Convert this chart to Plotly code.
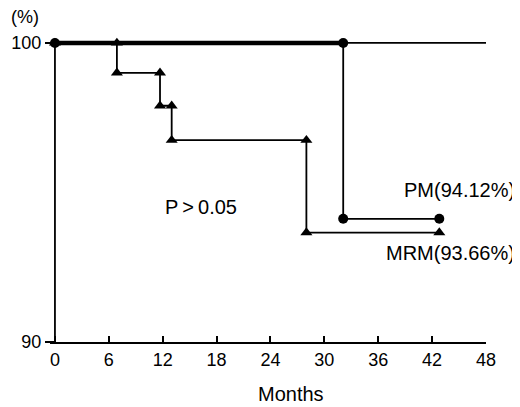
import plotly.graph_objects as go

# Data
pm_times = [0, 32.1, 42.8]
pm_surv = [100, 94.12, 94.12]

mrm_times = [0, 6.9, 11.7, 13.0, 28.0, 42.8]
mrm_surv = [100, 99.0, 97.9, 96.75, 93.66, 93.66]

x_ticks = [0, 6, 12, 18, 24, 30, 36, 42, 48]
y_ticks = [90, 100]

FONT = "Liberation Sans, Arial, sans-serif"

# The page body has an 8px margin, so the figure is offset by 8px.
# Plot area (page px): x 50..486, y 28..342
PL, PR, PT, PB = 50, 486, 28, 342
PW, PH = PR - PL, PB - PT


def px_x(p):
    return (p - PL) / PW


def px_y(p):
    return (PB - p) / PH


def step_points(times, surv):
    xs, ys = [times[0]], [surv[0]]
    for i in range(1, len(times)):
        xs.append(times[i]); ys.append(surv[i - 1])
        if surv[i] != surv[i - 1]:
            xs.append(times[i]); ys.append(surv[i])
    return xs, ys


fig = go.Figure()

# reference line at 100 %
fig.add_trace(go.Scatter(x=[x_ticks[0], x_ticks[-1]], y=[y_ticks[-1], y_ticks[-1]],
                         mode="lines", line=dict(color="black", width=1.8),
                         hoverinfo="skip", showlegend=False))

mx, my = step_points(mrm_times, mrm_surv)
fig.add_trace(go.Scatter(x=mx, y=my, mode="lines+markers",
                         line=dict(color="black", width=1.8),
                         marker=dict(symbol="triangle-up", size=10.5, color="black"),
                         cliponaxis=False, showlegend=False, name="MRM"))

px_, py_ = step_points(pm_times, pm_surv)
fig.add_trace(go.Scatter(x=px_, y=py_, mode="lines",
                         line=dict(color="black", width=1.8),
                         cliponaxis=False, showlegend=False, name="PM"))
# thick first segment of PM
fig.add_trace(go.Scatter(x=pm_times[:2], y=[pm_surv[0], pm_surv[0]], mode="lines",
                         line=dict(color="black", width=4.5),
                         cliponaxis=False, showlegend=False, hoverinfo="skip"))
fig.add_trace(go.Scatter(x=px_, y=py_, mode="markers",
                         marker=dict(symbol="circle", size=10, color="black"),
                         cliponaxis=False, showlegend=False, hoverinfo="skip"))

# y axis line at x = 0
fig.add_shape(type="line", x0=0, x1=0, y0=y_ticks[0], y1=y_ticks[-1],
              xref="x", yref="y", line=dict(color="black", width=1.8))

tf = dict(size=20, family=FONT, color="black")
fig.add_annotation(x=px_x(201), y=px_y(207), xref="paper", yref="paper",
                   text="P\u2009&gt;\u20090.05", showarrow=False,
                   xanchor="center", yanchor="middle", font=tf)
fig.add_annotation(x=px_x(517), y=px_y(190), xref="paper", yref="paper",
                   text="PM(94.12%)", showarrow=False, xanchor="right", yanchor="middle",
                   font=tf)
fig.add_annotation(x=px_x(517), y=px_y(253), xref="paper", yref="paper",
                   text="MRM(93.66%)", showarrow=False, xanchor="right", yanchor="middle",
                   font=tf)
fig.add_annotation(x=px_x(25), y=px_y(17.5), xref="paper", yref="paper",
                   text="(%)", showarrow=False, xanchor="center", yanchor="middle",
                   font=dict(size=18, family=FONT, color="black"))
fig.add_annotation(x=px_x(291), y=px_y(394), xref="paper", yref="paper",
                   text="Months", showarrow=False, xanchor="center", yanchor="middle",
                   font=tf)

W, H = 512, 399
fig.update_layout(
    width=W, height=H,
    margin=dict(l=PL - 8, r=W - (PR - 8), t=PT - 8, b=H - (PB - 8), autoexpand=False),
    paper_bgcolor="white", plot_bgcolor="white",
    xaxis=dict(range=[-0.55, 48], tickvals=x_ticks, ticktext=[str(v) for v in x_ticks],
               ticks="inside", ticklen=6, tickwidth=1.5, tickcolor="black",
               showline=True, linecolor="black", linewidth=1.8,
               showgrid=False, zeroline=False,
               tickfont=dict(size=18, family=FONT, color="black")),
    yaxis=dict(range=[90, 100.5], tickvals=y_ticks, ticktext=[str(v) for v in y_ticks],
               ticks="outside", ticklen=10, tickwidth=1.5, tickcolor="black",
               showline=False, showgrid=False, zeroline=False,
               anchor="free", position=5 / PW,
               tickfont=dict(size=18, family=FONT, color="black")),
)

fig.write_html("out.html")
